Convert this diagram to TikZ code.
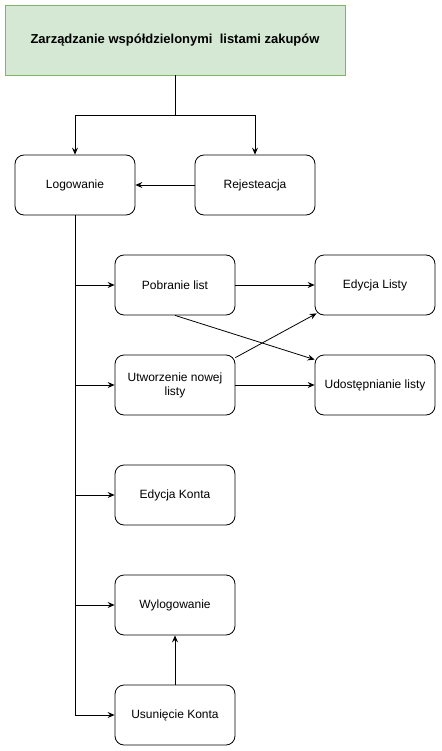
\documentclass[tikz,border=0pt]{standalone}
\usepackage{fontspec}
\setmainfont{Liberation Sans}
\usetikzlibrary{arrows.meta}
\begin{document}
\begin{tikzpicture}[x=1pt,y=-1pt,
  box/.style={draw=black,line width=0.8pt,rounded corners=9pt,minimum width=120pt,minimum height=60pt,align=center,font=\fontsize{12}{14}\selectfont,inner sep=2pt},
  title/.style={draw={rgb,255:red,130;green,179;blue,102},fill={rgb,255:red,213;green,232;blue,212},line width=0.8pt,minimum width=340pt,minimum height=70pt,font=\bfseries\fontsize{13}{15}\selectfont},
  conn/.style={draw=black,line width=0.8pt},
  arr/.style={conn,-{Stealth[length=7pt,width=6pt,inset=2.5pt]}}]
\useasboundingbox (0,0) rectangle (441,751);
\node[title] (top) at (175,40) {Zarządzanie współdzielonymi\ \ listami zakupów};
\node[box] (log) at (75,185) {Logowanie};
\node[box] (rej) at (255,185) {Rejesteacja};
\node[box] (pob) at (175,285) {Pobranie list};
\node[box] (utw) at (175,385) {Utworzenie nowej\\listy};
\node[box] (eko) at (175,495) {Edycja Konta};
\node[box] (wyl) at (175,605) {Wylogowanie};
\node[box] (usu) at (175,715) {Usunięcie Konta};
\node[box] (eli) at (375,285) {Edycja Listy};
\node[box] (udo) at (375,385) {Udostępnianie listy};
\coordinate (split) at (175,115);
\draw[conn] (top.south) -- (split);
\draw[arr] (split) -| (log.north);
\draw[arr] (split) -| (rej.north);
\draw[arr] (rej.west) -- (log.east);
\draw[arr] (log.south) |- (pob.west);
\draw[arr] (log.south) |- (utw.west);
\draw[arr] (log.south) |- (eko.west);
\draw[arr] (log.south) |- (wyl.west);
\draw[arr] (log.south) |- (usu.west);
\draw[arr] (pob.east) -- (eli.west);
\draw[arr] (utw.east) -- (udo.west);
\draw[arr] (pob.south) -- ([yshift=-5pt]udo.north west);
\draw[arr] ([yshift=-3pt]utw.north east) -- ([xshift=2pt,yshift=2pt]eli.south west);
\draw[arr] (usu.north) -- (wyl.south);
\end{tikzpicture}
\end{document}
